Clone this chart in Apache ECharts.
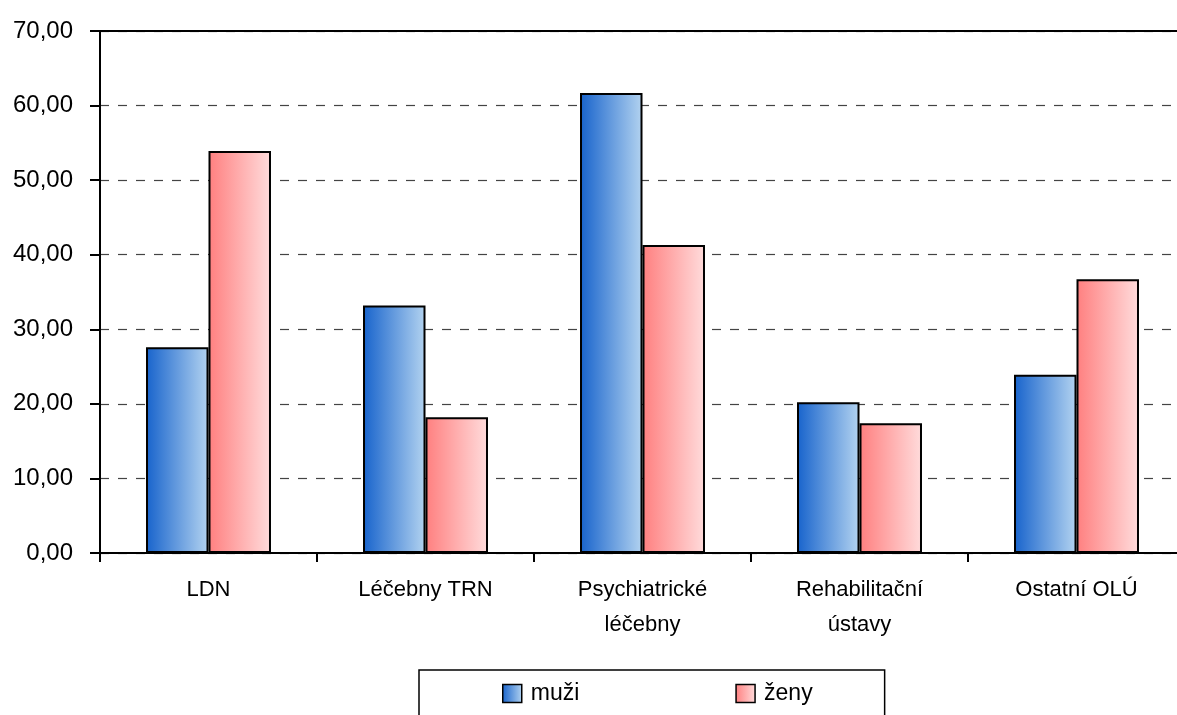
<!DOCTYPE html>
<html><head><meta charset="utf-8">
<script src="https://cdn.jsdelivr.net/npm/echarts@6/dist/echarts.min.js"></script>
<style>html,body{margin:0;padding:0;background:#fff;overflow:hidden}#c{width:1185px;height:715px}</style>
</head><body><div id="c"></div>
<script>
const categories = ['LDN', 'Léčebny TRN', 'Psychiatrické\nléčebny', 'Rehabilitační\nústavy', 'Ostatní OLÚ'];
const muzi = [27.6, 33.2, 61.7, 20.2, 23.9];
const zeny = [53.9, 18.2, 41.3, 17.4, 36.7];
const seriesNames = ['muži', 'ženy'];

const font = 'Liberation Sans';
function grad(a, b) {
  return new echarts.graphic.LinearGradient(0, 0, 1, 0, [{offset: 0, color: a}, {offset: 1, color: b}]);
}
const chart = echarts.init(document.getElementById('c'));
chart.setOption({
  animation: false,
  backgroundColor: '#fff',
  textStyle: {fontFamily: font},
  grid: {left: 100, right: 0, top: 31, bottom: 162, containLabel: false},
  legend: {
    left: 419, top: 670,
    borderColor: '#000', borderWidth: 1.5,
    padding: [12, 72, 30, 83],
    itemGap: 156, itemWidth: 19, itemHeight: 18,
    icon: 'rect',
    itemStyle: {borderColor: '#000', borderWidth: 1.5},
    textStyle: {fontFamily: font, fontSize: 23, color: '#000', padding: [0, 0, 0, 4]},
    data: seriesNames
  },
  xAxis: [{
    type: 'category', data: categories,
    axisLine: {lineStyle: {color: '#000', width: 2}},
    axisTick: {show: true, length: 9, lineStyle: {color: '#000', width: 2}},
    axisLabel: {color: '#000', fontSize: 22, fontFamily: font, margin: 19, lineHeight: 35}
  }, {
    type: 'category', data: categories, position: 'top',
    axisLine: {show: true, lineStyle: {color: '#000', width: 2}},
    axisTick: {show: false}, axisLabel: {show: false}
  }],
  yAxis: {
    type: 'value', min: 0, max: 70, interval: 10,
    axisLine: {show: true, lineStyle: {color: '#000', width: 2}},
    axisTick: {show: true, length: 10, lineStyle: {color: '#000', width: 2}},
    axisLabel: {color: '#000', fontSize: 24, fontFamily: font, margin: 27,
      formatter: v => v.toFixed(2).replace('.', ',')},
    splitLine: {show: true, lineStyle: {color: '#444', type: [9, 9], width: 1.2}}
  },
  series: [{
    name: seriesNames[0], type: 'bar', data: muzi,
    barGap: '0%', barCategoryGap: '42.4%',
    itemStyle: {color: grad('#1763cc', '#b3d3f0'), borderColor: '#000', borderWidth: 2}
  }, {
    name: seriesNames[1], type: 'bar', data: zeny,
    itemStyle: {color: grad('#ff7f7f', '#ffdcdc'), borderColor: '#000', borderWidth: 2}
  }]
});
</script></body></html>
